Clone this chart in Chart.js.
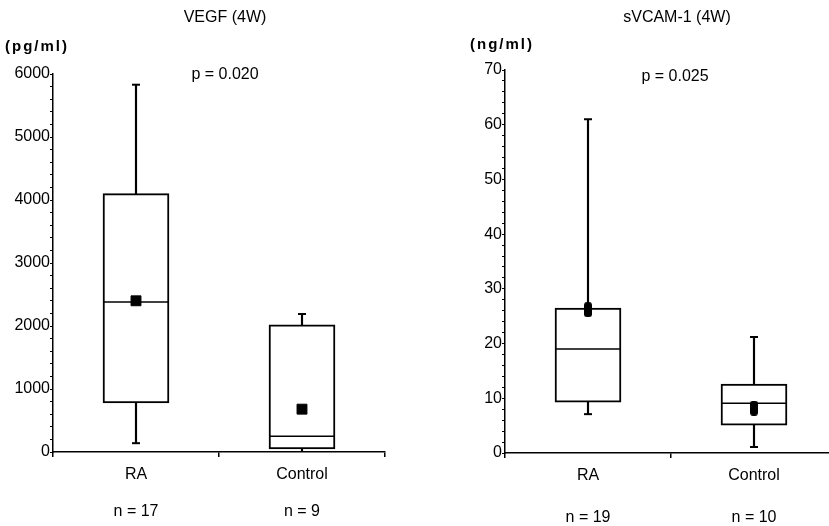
<!DOCTYPE html>
<html>
<head>
<meta charset="utf-8">
<script src="https://cdn.jsdelivr.net/npm/chart.js@4.4.0/dist/chart.umd.min.js"></script>
<style>
  html, body { margin: 0; padding: 0; background: #fff; overflow: hidden; }
  #wrap { position: relative; width: 829px; height: 526px; overflow: hidden; }
  #vegf { position: absolute; left: 0; top: 0; }
  #vcam { position: absolute; left: 414px; top: 0; }
</style>
</head>
<body>
<div id="wrap">
  <canvas id="vegf" width="414" height="526"></canvas>
  <canvas id="vcam" width="430" height="526"></canvas>
</div>
<script>
const categories = ['RA', 'Control']

// VEGF (4W), pg/ml
const vegfN = ['n = 17', 'n = 9']
const vegfMin = [140, 0]
const vegfQ1 = [780, 50]
const vegfMedian = [2380, 250]
const vegfQ3 = [4100, 2020]
const vegfMax = [5830, 2190]
const vegfMean = [2400, 680]

// sVCAM-1 (4W), ng/ml
const vcamN = ['n = 19', 'n = 10']
const vcamMin = [7.1, 1.1]
const vcamQ1 = [9.3, 5.1]
const vcamMedian = [19, 9.1]
const vcamQ3 = [26.5, 12.6]
const vcamMax = [61, 21.2]
const vcamMean = [26.2, 8.2]

const font = '"Liberation Sans", Arial, sans-serif'

// tall rounded marker used for the sVCAM-1 means
function tallMarker(w, h) {
  const c = document.createElement('canvas')
  c.width = w
  c.height = h
  const g = c.getContext('2d')
  g.fillStyle = '#000'
  g.beginPath()
  g.roundRect(0, 0, w, h, 3)
  g.fill()
  return c
}

// titles, units and p-values
const textPlugin = {
  id: 'texts',
  afterDraw(chart, args, opts) {
    const ctx = chart.ctx
    ctx.save()
    ctx.fillStyle = '#000'
    ctx.textBaseline = 'middle'
    ctx.textAlign = 'center'
    ctx.font = '16px ' + font
    ctx.fillText(opts.title, opts.titleX, 18)
    ctx.fillText(opts.p, opts.pX, opts.pY)
    ctx.textAlign = 'left'
    ctx.font = 'bold 15px ' + font
    if ('letterSpacing' in ctx) ctx.letterSpacing = '2px'
    ctx.fillText(opts.unit, opts.unitX, opts.unitY)
    ctx.restore()
  }
}

function boxChart(id, s) {
  const labels = categories.map((c, i) => [c, '', s.n[i]])
  return new Chart(document.getElementById(id), {
    data: {
      labels: labels,
      datasets: [
        { type: 'line', data: s.mean, showLine: false, pointStyle: s.meanStyle, pointRadius: 7,
          backgroundColor: '#000', borderColor: '#000', borderWidth: 1, order: 0 },
        { type: 'line', data: s.median, showLine: false, pointStyle: 'line', pointRadius: 33,
          borderColor: '#000', borderWidth: 1.5, order: 1 },
        { type: 'bar', data: s.q1.map((v, i) => [v, s.q3[i]]), backgroundColor: '#fff',
          borderColor: '#000', borderWidth: 2, borderSkipped: false, barThickness: 66, grouped: false, order: 2 },
        { type: 'line', data: s.max, showLine: false, pointStyle: 'line', pointRadius: 4,
          borderColor: '#000', borderWidth: 2, order: 3 },
        { type: 'line', data: s.min, showLine: false, pointStyle: 'line', pointRadius: 4,
          borderColor: '#000', borderWidth: 2, order: 3 },
        { type: 'bar', data: s.min.map((v, i) => [v, s.max[i]]), backgroundColor: '#000',
          barThickness: 1.5, grouped: false, order: 4 }
      ]
    },
    options: {
      responsive: false,
      animation: false,
      events: [],
      layout: { autoPadding: false, padding: { top: s.top, right: s.right, left: 0, bottom: 0 } },
      plugins: { legend: { display: false }, tooltip: { enabled: false }, texts: s.texts },
      scales: {
        x: {
          offset: true,
          afterFit: sc => { sc.height = s.xHeight },
          border: { display: true, color: '#000', width: 1.5 },
          grid: { offset: true, drawOnChartArea: false, color: '#000', tickLength: 5, lineWidth: 1.5 },
          ticks: { color: '#000', padding: s.xPad, font: { family: font, size: 16, lineHeight: s.lineH } }
        },
        y: {
          min: 0, max: s.yMax,
          afterFit: sc => { sc.width = s.yWidth },
          border: { display: true, color: '#000', width: 1.5 },
          grid: { drawOnChartArea: false, color: '#000', tickLength: 3, lineWidth: 1 },
          ticks: {
            stepSize: s.minor, autoSkip: false, color: '#000', padding: 0,
            font: { family: font, size: 16 },
            callback: v => (v % s.major === 0 ? v : '')
          }
        }
      }
    },
    plugins: [textPlugin]
  })
}

boxChart('vegf', {
  n: vegfN, min: vegfMin, q1: vegfQ1, median: vegfMedian, q3: vegfQ3, max: vegfMax, mean: vegfMean,
  meanStyle: 'rect',
  yMax: 6000, major: 1000, minor: 200, top: 74, right: 29, yWidth: 53, xHeight: 74, xPad: 8.75, lineH: 1.156,
  texts: { title: 'VEGF (4W)', titleX: 225, p: 'p = 0.020', pX: 225, pY: 75, unit: '(pg/ml)', unitX: 5, unitY: 47 }
})

boxChart('vcam', {
  n: vcamN, min: vcamMin, q1: vcamQ1, median: vcamMedian, q3: vcamQ3, max: vcamMax, mean: vcamMean,
  meanStyle: tallMarker(8, 15),
  yMax: 70, major: 10, minor: 2, top: 70, right: 7, yWidth: 91, xHeight: 73, xPad: 7.5, lineH: 1.3125,
  texts: { title: 'sVCAM-1 (4W)', titleX: 263, p: 'p = 0.025', pX: 261, pY: 77, unit: '(ng/ml)', unitX: 56, unitY: 45 }
})
</script>
</body>
</html>
